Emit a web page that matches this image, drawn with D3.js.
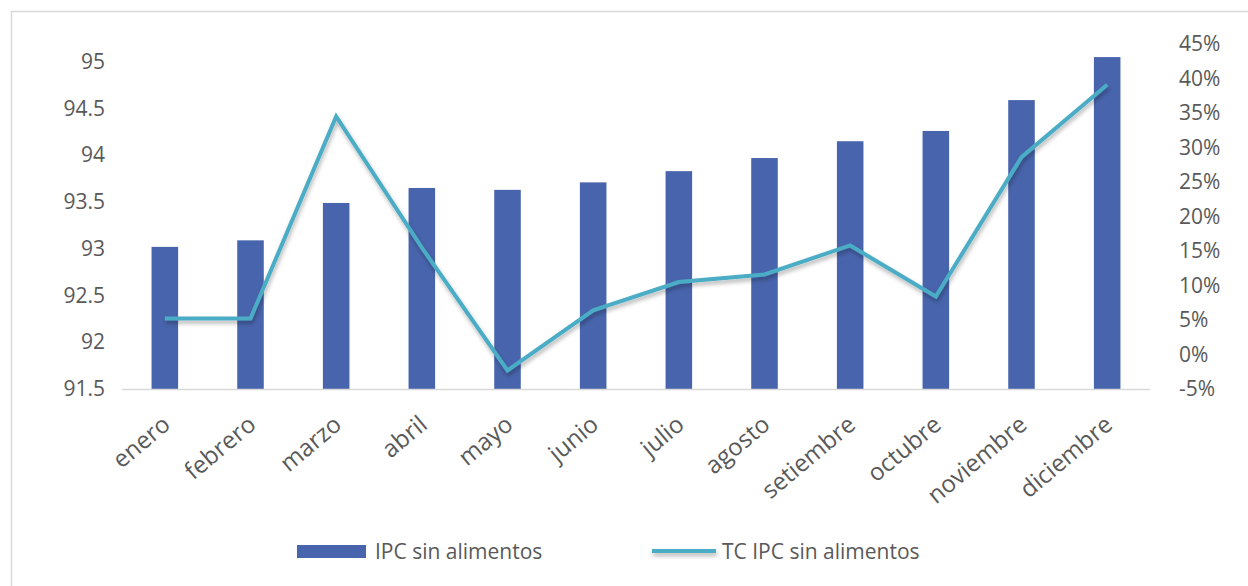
<!DOCTYPE html>
<html>
<head>
  <script src="https://d3js.org/d3.v7.min.js"></script>
  <style>
    body { margin: 0; background: #fff; }
    text { font-family: "Open Sans", sans-serif; fill: #595959; }
  </style>
</head>
<body>
<div id="chart"></div>
<script>
  var months = ["enero", "febrero", "marzo", "abril", "mayo", "junio", "julio",
    "agosto", "setiembre", "octubre", "noviembre", "diciembre"];
  var ipcValues = [93.02, 93.09, 93.49, 93.65, 93.63, 93.71, 93.83, 93.97, 94.15, 94.26, 94.59, 95.05];
  var tcValues = [0.052, 0.052, 0.345, 0.155, -0.023, 0.064, 0.105, 0.116, 0.158, 0.084, 0.286, 0.391];
  var leftTicks = [91.5, 92, 92.5, 93, 93.5, 94, 94.5, 95];
  var rightTicks = [-0.05, 0, 0.05, 0.1, 0.15, 0.2, 0.25, 0.3, 0.35, 0.4, 0.45];
  var seriesNames = ["IPC sin alimentos", "TC IPC sin alimentos"];

  var width = 1248, height = 586;
  var plot = { left: 122, right: 1150, top: 44, bottom: 389 };
  var barColor = "#4864ac";
  var lineColor = "#4bacc6";

  var svg = d3.select("#chart").append("svg")
    .attr("width", width)
    .attr("height", height);

  var defs = svg.append("defs");
  var shadow = defs.append("filter").attr("id", "shadow")
    .attr("filterUnits", "userSpaceOnUse")
    .attr("x", 0).attr("y", 0).attr("width", width).attr("height", height);
  shadow.append("feDropShadow")
    .attr("dx", 1).attr("dy", 3).attr("stdDeviation", 2)
    .attr("flood-color", "#000").attr("flood-opacity", 0.3);

  // outer frame
  svg.append("rect")
    .attr("x", 11.5).attr("y", 11.5)
    .attr("width", width + 20).attr("height", height + 20)
    .attr("fill", "none")
    .attr("stroke", "#d9d9d9")
    .attr("stroke-width", 1.5);

  var x = d3.scaleBand()
    .domain(months)
    .range([plot.left, plot.right])
    .paddingInner(0.69)
    .paddingOuter(0.345);

  var yLeft = d3.scaleLinear()
    .domain([91.5, 95.19])
    .range([plot.bottom, plot.top]);

  var yRight = d3.scaleLinear()
    .domain([-0.05, 0.45])
    .range([plot.bottom, plot.top]);

  // bars
  svg.append("g").selectAll("rect")
    .data(months)
    .enter().append("rect")
    .attr("x", function(d) { return x(d); })
    .attr("y", function(d, i) { return yLeft(ipcValues[i]); })
    .attr("width", x.bandwidth())
    .attr("height", function(d, i) { return plot.bottom - yLeft(ipcValues[i]); })
    .attr("fill", barColor);

  // x axis line
  svg.append("line")
    .attr("x1", plot.left).attr("x2", plot.right)
    .attr("y1", plot.bottom + 0.5).attr("y2", plot.bottom + 0.5)
    .attr("stroke", "#d9d9d9")
    .attr("stroke-width", 1.5);

  // left axis
  var leftAxis = svg.append("g")
    .attr("transform", "translate(105,0)")
    .call(d3.axisLeft(yLeft).tickValues(leftTicks).tickSize(0).tickPadding(0)
      .tickFormat(function(d) { return String(d); }));
  leftAxis.select(".domain").remove();
  leftAxis.selectAll("text")
    .style("font-size", "21px")
    .style("font-family", "'Open Sans', sans-serif")
    .style("fill", "#595959");

  // right axis
  var rightAxis = svg.append("g")
    .attr("transform", "translate(1179,0)")
    .call(d3.axisRight(yRight).tickValues(rightTicks).tickSize(0).tickPadding(0)
      .tickFormat(d3.format(".0%")));
  rightAxis.select(".domain").remove();
  rightAxis.selectAll("text")
    .style("font-size", "21px")
    .style("font-family", "'Open Sans', sans-serif")
    .style("fill", "#595959")
    .text(function(d) { return d3.format(".0%")(d).replace("−", "-"); });

  // x labels
  svg.append("g").selectAll("text")
    .data(months)
    .enter().append("text")
    .attr("transform", function(d) {
      return "translate(" + (x(d) + x.bandwidth() / 2 + 7) + "," + 427 + ") rotate(-40)";
    })
    .attr("text-anchor", "end")
    .style("font-size", "24px")
    .text(function(d) { return d; });

  // line
  var line = d3.line()
    .x(function(d, i) { return x(months[i]) + x.bandwidth() / 2; })
    .y(function(d) { return yRight(d); });

  svg.append("path")
    .datum(tcValues)
    .attr("d", line)
    .attr("fill", "none")
    .attr("stroke", lineColor)
    .attr("stroke-width", 4)
    .attr("stroke-linejoin", "miter")
    .attr("filter", "url(#shadow)");

  // legend
  var legend = svg.append("g");
  legend.append("rect")
    .attr("x", 297).attr("y", 545)
    .attr("width", 69).attr("height", 13)
    .attr("fill", barColor);
  legend.append("text")
    .attr("x", 375).attr("y", 559)
    .style("font-size", "21px")
    .text(seriesNames[0]);

  legend.append("rect")
    .attr("x", 652).attr("y", 549)
    .attr("width", 64).attr("height", 4)
    .attr("fill", lineColor)
    .attr("filter", "url(#shadow)");
  legend.append("text")
    .attr("x", 722).attr("y", 559)
    .style("font-size", "21px")
    .text(seriesNames[1]);
</script>
</body>
</html>
